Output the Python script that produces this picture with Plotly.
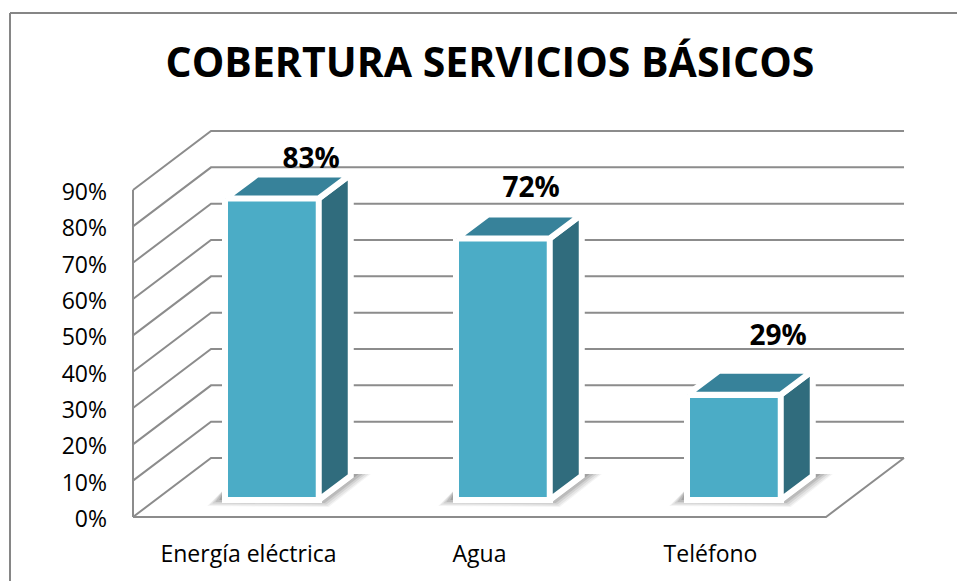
import plotly.graph_objects as go

categories = ["Energía eléctrica", "Agua", "Teléfono"]
cobertura = [83, 72, 29]
y_ticks = [0, 10, 20, 30, 40, 50, 60, 70, 80, 90]
title_text = "COBERTURA SERVICIOS BÁSICOS"

# Canvas and projection constants (pixels)
W, H = 957, 581
PL, PR, PT, PB = 128, 910, 125, 522      # plot rectangle
X0, CAT = 248.5, 231.0                   # pixel of category 0, pixels per category
Y0, UNIT = 517.0, 3.633                  # pixel of 0 %, pixels per 1 %
FONT = "Open Sans"
GRID = "#8c8c8c"
FACE, SIDE, TOP = "#4bacc6", "#306c7d", "#37829a"

def dx(px):
    return px / CAT
def dy(px):
    return px / UNIT
def paper_x(px):
    return (px - PL) / (PR - PL)
def paper_y(py):
    return (PB - py) / (PB - PT)

WALL_DX, WALL_DY = dx(78), dy(59)        # depth of the floor
LEFT = -115.5 / CAT                      # left end of the x axis
RIGHT = LEFT + 3                         # right end of the front of the floor
BAR_W = dx(93.5)
BAR_SHIFT, BAR_BASE = dx(23.5), dy(17)   # bars sit part way into the floor
BAR_DX, BAR_DY = dx(32), dy(24)          # depth of each bar
LABEL_DX = [dx(39), dx(28), dx(44)]
LABEL_DY = [dy(37), dy(48), dy(57)]

def path(points):
    return "M " + " L ".join(f"{x:.4f},{y:.4f}" for x, y in points) + " Z"

shapes = []
line = dict(color=GRID, width=2)
for v in y_ticks:
    shapes.append(dict(type="path", xref="x", yref="y", layer="below", line=line,
                       path="M " + " L ".join(f"{x:.4f},{y:.4f}" for x, y in [
                           (LEFT, v), (LEFT + WALL_DX, v + WALL_DY), (RIGHT + WALL_DX, v + WALL_DY)])))
# left wall edge and front / right floor edges
shapes.append(dict(type="line", xref="x", yref="y", layer="below", line=line,
                   x0=LEFT, x1=LEFT, y0=y_ticks[0], y1=y_ticks[-1]))
shapes.append(dict(type="path", xref="x", yref="y", layer="below", line=line,
                   path=f"M {LEFT},0 L {RIGHT},0 L {RIGHT + WALL_DX},{WALL_DY}"))

# soft shadows at the foot of each bar
for i in range(len(categories)):
    c = i + BAR_SHIFT
    l, r = c - BAR_W / 2, c + BAR_W / 2
    for grow, alpha in [(4, 0.06), (3, 0.08), (1.5, 0.12), (0, 0.16), (-2, 0.22)]:
        shapes.append(dict(type="path", xref="x", yref="y", layer="below",
                           line=dict(width=0), fillcolor=f"rgba(70,70,70,{alpha})",
                           path=path([
                               (l - dx(10 + grow * 2), BAR_BASE - dy(2 + grow)),
                               (r + dx(6 + grow), BAR_BASE - dy(3 + grow)),
                               (r + dx(44 + grow * 2), BAR_BASE + dy(26)),
                               (r + dx(30), BAR_BASE + dy(26)),
                               (l, BAR_BASE + dy(12)),
                           ])))

# outer frame of the chart
frame = dict(color="#868686", width=2)
shapes.append(dict(type="line", xref="paper", yref="paper", line=frame, layer="below",
                   x0=paper_x(10), x1=paper_x(10), y0=paper_y(13), y1=paper_y(H)))
shapes.append(dict(type="line", xref="paper", yref="paper", line=frame, layer="below",
                   x0=paper_x(10), x1=paper_x(W), y0=paper_y(13), y1=paper_y(13)))

fig = go.Figure()
centres = [i + BAR_SHIFT for i in range(len(categories))]
fig.add_trace(go.Bar(x=centres, y=cobertura, base=[BAR_BASE] * len(cobertura), width=BAR_W,
                     marker=dict(color=FACE, line=dict(color="white", width=6)),
                     hoverinfo="skip", showlegend=False))

white = dict(color="white", width=6)
for c, v in zip(centres, cobertura):
    l, r = c - BAR_W / 2, c + BAR_W / 2
    t = BAR_BASE + v
    fig.add_trace(go.Scatter(
        x=[r, r + BAR_DX, r + BAR_DX, r, r],
        y=[BAR_BASE, BAR_BASE + BAR_DY, t + BAR_DY, t, BAR_BASE],
        mode="lines", fill="toself", fillcolor=SIDE, line=white,
        hoverinfo="skip", showlegend=False))
    fig.add_trace(go.Scatter(
        x=[l, l + BAR_DX, r + BAR_DX, r, l],
        y=[t, t + BAR_DY, t + BAR_DY, t, t],
        mode="lines", fill="toself", fillcolor=TOP, line=white,
        hoverinfo="skip", showlegend=False))

fig.add_trace(go.Scatter(
    x=[c + d for c, d in zip(centres, LABEL_DX)],
    y=[BAR_BASE + v + d for v, d in zip(cobertura, LABEL_DY)],
    text=[f"{v}%" for v in cobertura], mode="text", textposition="middle center",
    textfont=dict(family=FONT, size=28, color="black", weight="bold"),
    hoverinfo="skip", showlegend=False, cliponaxis=False))

fig.update_layout(
    width=W, height=H, autosize=False,
    margin=dict(l=PL, r=W - PR, t=PT, b=H - PB, pad=0),
    paper_bgcolor="white", plot_bgcolor="white",
    shapes=shapes, bargap=0,
    title=dict(text=title_text, x=490 / W, xanchor="center", y=1 - 63 / H, yanchor="middle",
               font=dict(family=FONT, size=41, color="black", weight="bold")),
    font=dict(family=FONT, color="black"),
    xaxis=dict(range=[(PL - X0) / CAT, (PR - X0) / CAT], tickmode="array",
               tickvals=list(range(len(categories))), ticktext=categories,
               showgrid=False, zeroline=False, showline=False, ticks="",
               ticklabelstandoff=16, tickfont=dict(family=FONT, size=23, color="black")),
    yaxis=dict(range=[(Y0 - PB) / UNIT, (Y0 - PT) / UNIT], tickmode="array",
               tickvals=y_ticks, ticktext=[f"{v}%" for v in y_ticks],
               showgrid=False, zeroline=False, showline=False, ticks="",
               ticklabelstandoff=20, ticklabelshift=2,
               tickfont=dict(family=FONT, size=23, color="black")),
)

fig.write_html("out.html", config={"displayModeBar": False},
               post_script="document.body.style.margin='0';document.body.style.overflow='hidden';")
